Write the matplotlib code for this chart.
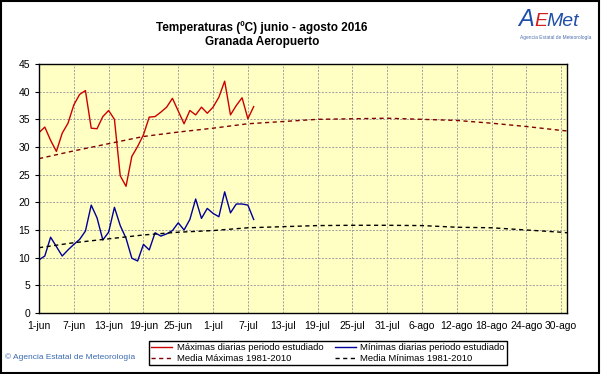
import numpy as np
import matplotlib.pyplot as plt
from matplotlib.patches import Rectangle

# Daily data, 1-jun (day 0) to 8-jul (day 37)
max_diarias = [32.6, 33.6, 31.2, 29.2, 32.5, 34.3, 37.6, 39.5, 40.2, 33.4,
               33.3, 35.5, 36.6, 35.0, 24.8, 22.9, 28.3, 30.1, 32.2, 35.4,
               35.5, 36.3, 37.2, 38.8, 36.5, 34.2, 36.6, 35.8, 37.2, 36.1,
               37.2, 39.0, 41.9, 35.8, 37.5, 38.9, 35.1, 37.3]
min_diarias = [9.6, 10.3, 13.7, 12.0, 10.3, 11.4, 12.4, 13.3, 14.8, 19.5,
               17.2, 13.2, 14.6, 19.1, 15.8, 13.5, 9.9, 9.4, 12.4, 11.4,
               14.5, 13.9, 14.3, 14.9, 16.3, 15.0, 16.9, 20.6, 17.1, 18.9,
               18.0, 17.4, 21.9, 18.1, 19.7, 19.7, 19.5, 16.9]

# Normals 1981-2010, read at the tick days
dias_media = [0, 6, 12, 18, 24, 30, 36, 42, 48, 54, 60, 66, 72, 78, 84, 90, 91]
media_max = [27.9, 29.3, 30.6, 31.9, 32.7, 33.4, 34.2, 34.6, 35.0, 35.1,
             35.2, 35.0, 34.8, 34.3, 33.7, 33.0, 32.9]
media_min = [11.8, 12.7, 13.4, 14.1, 14.6, 14.9, 15.4, 15.6, 15.8, 15.85,
             15.85, 15.8, 15.5, 15.4, 15.0, 14.6, 14.5]

tick_labels = ['1-jun', '7-jun', '13-jun', '19-jun', '25-jun', '1-jul', '7-jul',
               '13-jul', '19-jul', '25-jul', '31-jul', '6-ago', '12-ago',
               '18-ago', '24-ago', '30-ago']

plt.rcParams['font.family'] = ['Liberation Sans', 'DejaVu Sans']

W, H = 601, 374
fig = plt.figure(figsize=(W / 100, H / 100), dpi=100)
fig.patches.append(Rectangle((0.002, 0.003), 0.995, 0.994, transform=fig.transFigure,
                             fill=False, edgecolor='black', linewidth=1.5))

ax = fig.add_axes([39 / W, 1 - 313 / H, (567 - 39) / W, (313 - 64) / H])
ax.set_facecolor('#ffffc4')

dias = np.arange(len(max_diarias))
l1, = ax.plot(dias, max_diarias, color='#cc0000', lw=1.0)
l2, = ax.plot(dias, min_diarias, color='#000099', lw=1.0)
l3, = ax.plot(dias_media, media_max, color='#800000', lw=1.0, dashes=(3, 2.5))
l4, = ax.plot(dias_media, media_min, color='black', lw=1.0, dashes=(3, 2.5))

ax.set_xlim(0, 91)
ax.set_ylim(0, 45)
ax.set_xticks(np.arange(0, 91, 6))
ax.set_xticklabels(tick_labels)
ax.set_yticks(np.arange(0, 46, 5))
ax.tick_params(axis='x', length=0, pad=6, labelsize=7.5)
ax.tick_params(axis='y', length=3, labelsize=7.5)
ax.grid(True, color='#a0a0a0', linestyle=(0, (2, 1.5)), linewidth=0.7)
ax.set_axisbelow(True)
for s in ax.spines.values():
    s.set_color('black')
    s.set_linewidth(1.0)

fig.text(262 / W, 1 - 28 / H, 'Temperaturas (ºC) junio - agosto 2016',
         ha='center', va='center', fontsize=8.5, fontweight='bold')
fig.text(262 / W, 1 - 42 / H, 'Granada Aeropuerto',
         ha='center', va='center', fontsize=8.5, fontweight='bold')

# logo
fig.text(518 / W, 1 - 26 / H, 'A', color='#1f4fa8', fontsize=17, style='italic')
fig.text(534 / W, 1 - 26 / H, 'E', color='#d02020', fontsize=14, style='italic')
fig.text(546 / W, 1 - 26 / H, 'Met', color='#1f4fa8', fontsize=14, style='italic')
fig.text(556 / W, 1 - 37 / H, 'Agencia Estatal de Meteorología', color='#5070b0',
         fontsize=3.5, ha='center', va='center')

fig.text(5 / W, 1 - 357 / H, '© Agencia Estatal de Meteorología', color='#3a6ab0',
         fontsize=6, va='center')

fig.legend([l1, l3, l2, l4],
           ['Máximas diarias periodo estudiado', 'Media Máximas 1981-2010',
            'Mínimas diarias periodo estudiado', 'Media Mínimas 1981-2010'],
           ncol=2, loc='center', bbox_to_anchor=(328 / W, 1 - 353 / H),
           fontsize=6.8, frameon=True, fancybox=False, edgecolor='black',
           framealpha=1, borderpad=0.2, handlelength=2.2, handletextpad=0.5,
           columnspacing=1.2, labelspacing=0.2)

fig.savefig('out.png', dpi=100)
